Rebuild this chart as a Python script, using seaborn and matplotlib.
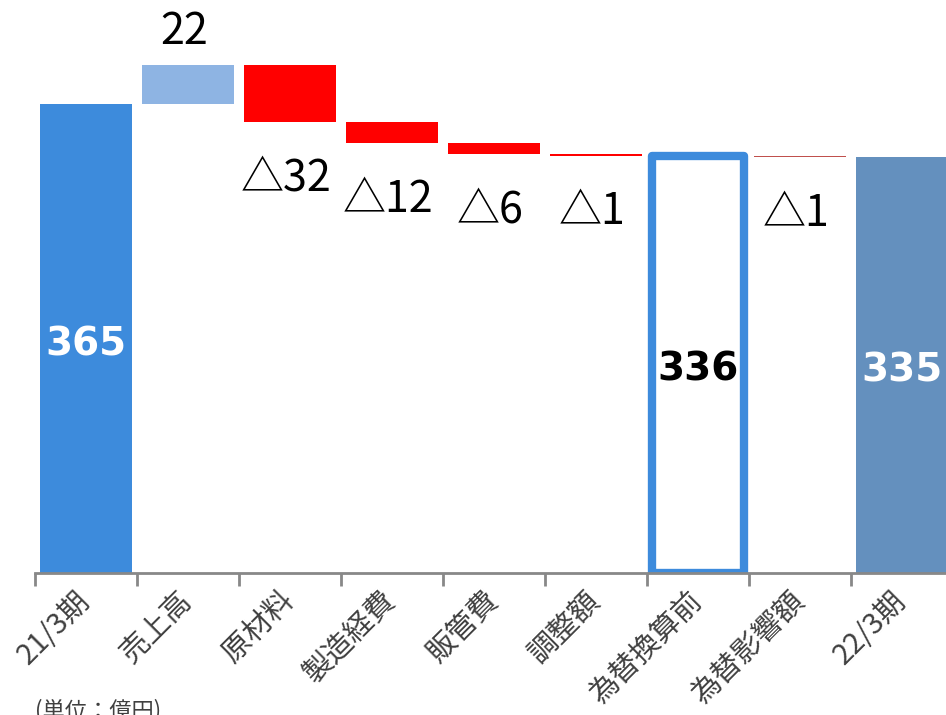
import seaborn as sns
import matplotlib.pyplot as plt
import pandas as pd

# categories and values (億円)
categories = ['21/3期', '売上高', '原材料', '製造経費', '販管費', '調整額', '為替換算前', '為替影響額', '22/3期']
changes = [365, 22, -32, -12, -6, -1, 336, -1, 335]
is_total = [True, False, False, False, False, False, True, False, True]
labels = ['365', '22', '△32', '△12', '△6', '△1', '336', '△1', '335']
bar_colors = ['#3d8bdc', '#8eb4e3', '#ff0000', '#ff0000', '#ff0000', '#ff0000', '#ffffff', '#c0504d', '#6490be']

base = 100  # axis floor

# running bottoms / heights for the waterfall
bottoms, heights = [], []
level = 0
for c, tot in zip(changes, is_total):
    if tot:
        level = c
        bottoms.append(base)
        heights.append(c - base)
    else:
        new = level + c
        bottoms.append(min(level, new))
        heights.append(abs(c))
        level = new

df = pd.DataFrame({'cat': categories, 'h': heights})

sns.set_style('white')
plt.rcParams['font.family'] = ['Noto Sans CJK JP', 'DejaVu Sans']

fig = plt.figure(figsize=(9.46, 7.15), dpi=100)
ax = fig.add_axes([35 / 946, 142 / 715, 9 * 102 / 946, 573 / 715])

sns.barplot(data=df, x='cat', y='h', bottom=bottoms, width=0.91, color='#3d8bdc', ax=ax)

for i, (p, col) in enumerate(zip(ax.patches, bar_colors)):
    p.set_facecolor(col)
    p.set_edgecolor('none')
    if i == 6:
        p.set_edgecolor('#3d8bdc')
        p.set_linewidth(6)
        p.set_joinstyle('round')

ax.set_xlim(-0.5, 8.5)
ax.set_ylim(base, 424)
ax.set_xlabel('')
ax.set_ylabel('')
ax.set_yticks([])
for s in ['top', 'right', 'left']:
    ax.spines[s].set_visible(False)
ax.spines['bottom'].set_color('#888888')
ax.spines['bottom'].set_linewidth(2)

# ticks at category boundaries, labels at centers
ax.set_xticks([i - 0.5 for i in range(len(categories))], minor=True)
ax.tick_params(axis='x', which='minor', bottom=True, length=9, width=2, color='#888888', direction='out')
ax.tick_params(axis='x', which='major', length=0, pad=17)
ax.set_xticklabels(categories, rotation=45, ha='right', va='center', rotation_mode='anchor',
                   fontsize=21, color='#404040')

# value labels
for i, (b, h, lab, tot) in enumerate(zip(bottoms, heights, labels, is_total)):
    if tot:
        col = 'black' if i == 6 else 'white'
        ax.annotate(lab, (i, b + h / 2), xytext=(0, -4), textcoords='offset points',
                    ha='center', va='center', fontsize=28,
                    fontweight='bold', color=col, family=['DejaVu Sans'])
    elif changes[i] > 0:
        ax.annotate(lab, (i, b + h), xytext=(-3, 8), textcoords='offset points',
                    ha='center', va='bottom', fontsize=31, color='black')
    else:
        ax.annotate(lab, (i, b), xytext=(-3, -25), textcoords='offset points',
                    ha='center', va='top', fontsize=31, color='black')

fig.text(35 / 946, 16 / 715, '(単位：億円)', ha='left', va='top', fontsize=16, color='#404040')

fig.savefig('out.png', dpi=100)
